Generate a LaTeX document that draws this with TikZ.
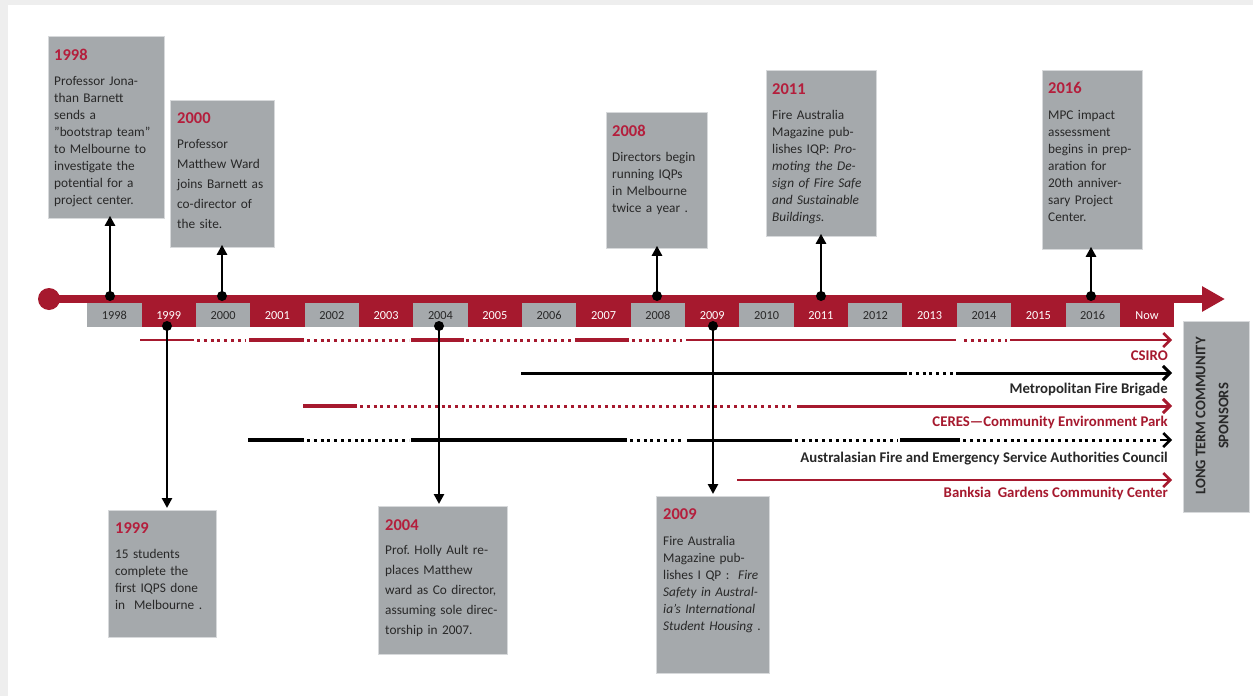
\documentclass[tikz,border=0pt]{standalone}
\usepackage{fontspec}
\setmainfont{Carlito}
\usetikzlibrary{arrows.meta}
\definecolor{tred}{RGB}{166,25,46}
\definecolor{hred}{RGB}{180,30,60}
\definecolor{boxgray}{RGB}{165,169,172}
\definecolor{boxedge}{RGB}{215,217,219}
\definecolor{txt}{RGB}{40,40,40}
\definecolor{frame}{RGB}{238,238,238}
\frenchspacing
\begin{document}
\begin{tikzpicture}[x=1pt,y=-1pt,
  box/.style={draw=boxedge, line width=0.8pt, fill=boxgray, anchor=north west, inner sep=0},
  head/.style={font=\fontsize{16.5}{20}\bfseries, text=hred, anchor=base west, inner sep=0},
  body/.style={font=\fontsize{13.3}{17}\selectfont, text=txt, anchor=base west, inner sep=0, align=left, text width=140pt},
  wide/.style={font=\fontsize{13.3}{20}\selectfont},
  dot/.style={circle, fill=black, inner sep=0, minimum size=10pt},
  conn/.style={line width=2.5pt, -{Triangle[length=10pt,width=10pt]}},
  cell/.style={minimum width=54.35pt, minimum height=24pt, inner sep=0, anchor=north west, font=\fontsize{12.3}{14}\selectfont},
  sol/.style={line width=3pt},
  thick4/.style={line width=4pt},
  dots/.style={line width=3pt, dash pattern=on 3pt off 3.8pt},
  tip/.style={-{Straight Barb[length=7pt,width=14pt]}},
  lab/.style={font=\fontsize{14.8}{17}\bfseries, anchor=base east, inner sep=0}
]
\useasboundingbox (0,0) rectangle (1253,696);
\fill[frame] (0,0) rectangle (1253,696);
\fill[white] (8,5) rectangle (1253,696);

% ---------- top boxes ----------
\node[box, minimum width=116pt, minimum height=182pt] (b1998) at (48,36) {};
\node[head] (h1998) at (54,60) {1998};
\node[body] (t1998) at (54,85) {Professor Jona-\\than Barnett\\sends a\\"bootstrap team"\\to Melbourne to\\investigate the\\potential for a\\project center.};

\node[box, minimum width=104pt, minimum height=147pt] (b2000) at (170,100) {};
\node[head] (h2000) at (177,123) {2000};
\node[body, wide] (t2000) at (177,148) {Professor\\Matthew Ward\\joins Barnett as\\co-director of\\the site.};

\node[box, minimum width=101pt, minimum height=136pt] (b2008) at (606,112) {};
\node[head] (h2008) at (612,136) {2008};
\node[body] (t2008) at (612,161) {Directors begin\\running IQPs\\in Melbourne\\twice a year .};

\node[box, minimum width=110pt, minimum height=166pt] (b2011) at (766,70) {};
\node[head] (h2011) at (772,94) {2011};
\node[body] (t2011) at (772,119) {Fire Australia\\Magazine pub-\\lishes IQP: \textit{Pro-}\\\textit{moting the De-}\\\textit{sign of Fire Safe}\\\textit{and Sustainable}\\\textit{Buildings.}};

\node[box, minimum width=100pt, minimum height=179pt] (b2016) at (1042,70) {};
\node[head] (h2016) at (1048,93) {2016};
\node[body] (t2016) at (1048,119) {MPC impact\\assessment\\begins in prep-\\aration for\\20th anniver-\\sary Project\\Center.};

% ---------- bottom boxes ----------
\node[box, minimum width=108pt, minimum height=127pt] (b1999) at (108,510) {};
\node[head] (h1999) at (115,533) {1999};
\node[body] (t1999) at (115,558) {15 students\\complete the\\first IQPS done\\in\ \ Melbourne .};

\node[box, minimum width=129pt, minimum height=148pt] (b2004) at (378,506) {};
\node[head] (h2004) at (385,530) {2004};
\node[body, wide] (t2004) at (385,554) {Prof. Holly Ault re-\\places Matthew\\ward as Co director,\\assuming sole direc-\\torship in 2007.};

\node[box, minimum width=113pt, minimum height=177pt] (b2009) at (656,496) {};
\node[head] (h2009) at (663,519) {2009};
\node[body] (t2009) at (663,545) {Fire Australia\\Magazine pub-\\lishes I QP :\ \ \textit{Fire}\\\textit{Safety in Austral-}\\\textit{ia's International}\\\textit{Student Housing .}};

% ---------- sponsor box ----------
\node[box, minimum width=66pt, minimum height=191pt] (spons) at (1183,321) {};
\node[rotate=90, font=\fontsize{14.6}{23}\bfseries, text=txt, align=center, inner sep=0] (stext) at (1212,416) {LONG TERM COMMUNITY\\SPONSORS};

% ---------- timeline ----------
\node[circle, fill=tred, minimum size=22pt, inner sep=0] (start) at (49,299) {};
\coordinate (tend) at (1225,299);
\draw[tred, line width=8pt, -{Triangle[length=23pt,width=24pt]}] (start.center) -- (tend);
\foreach \i/\t/\cf/\ct in {0/1998/boxgray/txt,1/1999/tred/white,2/2000/boxgray/txt,3/2001/tred/white,4/2002/boxgray/txt,5/2003/tred/white,6/2004/boxgray/txt,7/2005/tred/white,8/2006/boxgray/txt,9/2007/tred/white,10/2008/boxgray/txt,11/2009/tred/white,12/2010/boxgray/txt,13/2011/tred/white,14/2012/boxgray/txt,15/2013/tred/white,16/2014/boxgray/txt,17/2015/tred/white,18/2016/boxgray/txt,19/Now/tred/white}
  \node[cell, fill=\cf, text=\ct] (c\t) at ({87+\i*54.35},303) {\t};

% ---------- sponsor lines ----------
% CSIRO
\begin{scope}[tred]
\draw[line width=2pt] (140,340) -- (194,340);
\draw[dots] (197,340) -- (246,340);
\draw[thick4] (249,340) -- (304,340);
\draw[dots] (307,340) -- (409,340);
\draw[thick4] (411,340) -- (464,340);
\draw[dots] (466,340) -- (573,340);
\draw[thick4] (575,340) -- (629,340);
\draw[dots] (632,340) -- (682,340);
\draw[line width=2.5pt] (686,340) -- (956,340);
\draw[dots] (964,340) -- (1007,340);
\coordinate (csA) at (1010,340); \coordinate (csB) at (1172,340);
\draw[line width=2.5pt, tip] (csA) -- (csB);
\end{scope}
\node[lab, text=tred] (lcsiro) at (1168,360) {CSIRO};
% MFB
\draw[sol] (521,373) -- (907,373);
\draw[dots] (909,373) -- (953,373);
\coordinate (mfA) at (956,373); \coordinate (mfB) at (1172,373);
\draw[sol, tip] (mfA) -- (mfB);
\node[lab, text=txt] (lmfb) at (1168,393) {Metropolitan Fire Brigade};
% CERES
\begin{scope}[tred]
\draw[thick4] (303,406) -- (357,406);
\draw[dots] (360,406) -- (795,406);
\coordinate (ceA) at (797,406); \coordinate (ceB) at (1172,406);
\draw[sol, tip] (ceA) -- (ceB);
\end{scope}
\node[lab, text=tred] (lceres) at (1168,426) {CERES—Community Environment Park};
% AFESAC
\draw[thick4] (248,440) -- (304,440);
\draw[dots] (307,440) -- (409,440);
\draw[thick4] (411,440) -- (627,440);
\draw[dots] (630,440) -- (684,440);
\draw[sol] (687,440) -- (792,440);
\draw[dots] (795,440) -- (898,440);
\draw[thick4] (900,440) -- (960,440);
\draw[dots] (963,440) -- (1160,440);
\coordinate (afA) at (1160,440); \coordinate (afB) at (1172,440);
\draw[line width=2.5pt, tip] (afA) -- (afB);
\node[lab, text=txt] (lafesac) at (1168,462) {Australasian Fire and Emergency Service Authorities Council};
% Banksia
\coordinate (bkA) at (737,480); \coordinate (bkB) at (1172,480);
\draw[tred, line width=2.5pt, tip] (bkA) -- (bkB);
\node[lab, text=tred] (lbank) at (1168,497) {Banksia\ \ Gardens Community Center};

% ---------- connectors ----------
\node[dot] (d1998) at (110,296) {};
\node[dot] (d2000) at (222,296) {};
\node[dot] (d2008) at (657,296) {};
\node[dot] (d2011) at (821,296) {};
\node[dot] (d2016) at (1091,296) {};
\draw[conn, shorten >=-3pt] (d1998.center) -- (d1998 |- b1998.south);
\draw[conn, shorten >=-3pt] (d2000.center) -- (d2000 |- b2000.south);
\draw[conn, shorten >=-3pt] (d2008.center) -- (d2008 |- b2008.south);
\draw[conn, shorten >=-3pt] (d2011.center) -- (d2011 |- b2011.south);
\draw[conn, shorten >=-3pt] (d2016.center) -- (d2016 |- b2016.south);

\node[dot] (d1999) at (167,326) {};
\node[dot] (d2004) at (439,326) {};
\node[dot] (d2009) at (713,326) {};
\draw[conn, shorten >=2pt] (d1999.center) -- (d1999 |- b1999.north);
\draw[conn, shorten >=2pt] (d2004.center) -- (d2004 |- b2004.north);
\draw[conn, shorten >=2pt] (d2009.center) -- (d2009 |- b2009.north);
\end{tikzpicture}
\end{document}
